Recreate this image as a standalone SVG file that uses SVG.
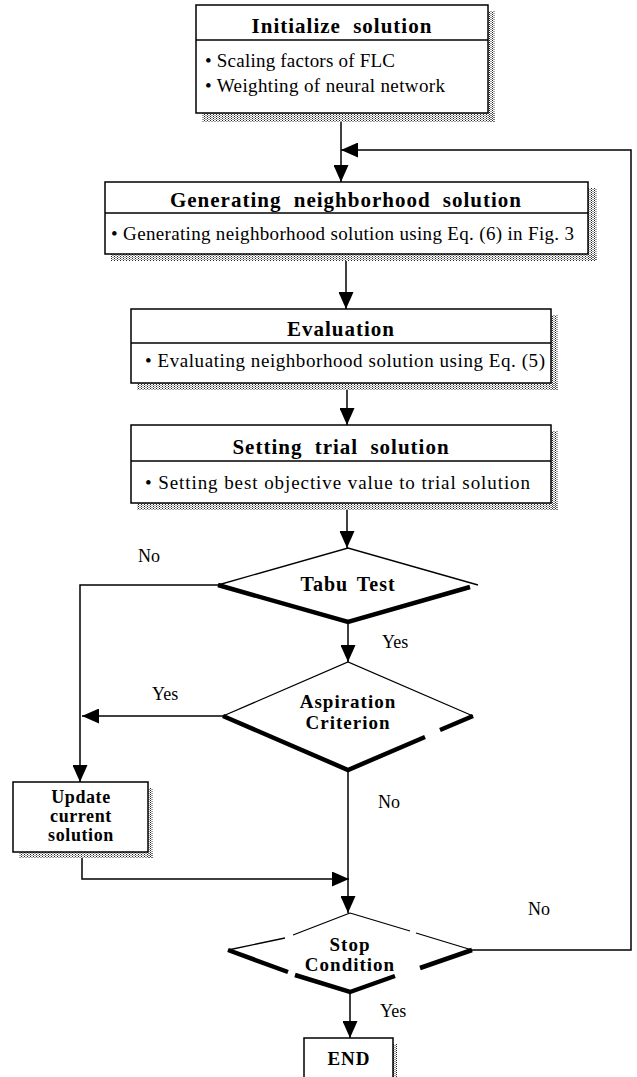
<svg xmlns="http://www.w3.org/2000/svg" width="637" height="1077" viewBox="0 0 637 1077">
<style>
.box{fill:#fff;stroke:#000;stroke-width:1.5}
.dv{stroke:#000;stroke-width:1.3}
.hdr{font-family:"Liberation Serif",serif;font-weight:bold;font-size:21px;letter-spacing:1px;word-spacing:6px;text-anchor:middle;fill:#000}
.bul{font-family:"Liberation Serif",serif;font-size:19px;fill:#000}
.dt{font-family:"Liberation Serif",serif;font-weight:bold;font-size:19px;letter-spacing:1px;word-spacing:3px;text-anchor:middle;fill:#000}
.ut{font-family:"Liberation Serif",serif;font-weight:bold;font-size:18px;letter-spacing:0.6px;text-anchor:middle;fill:#000}
.lbl{font-family:"Liberation Serif",serif;font-size:18px;fill:#000}
.ln{fill:none;stroke:#000;stroke-width:1.5}
.thin{fill:none;stroke:#000;stroke-width:1.3}
.thick{fill:none;stroke:#000;stroke-width:4.5}
.dfill{fill:#fff;stroke:none}
.sh{fill:url(#dots)}
</style>
<defs>
<pattern id="dots" patternUnits="userSpaceOnUse" width="3" height="2">
<rect x="0" y="0" width="1" height="1" fill="#222"/>
<rect x="1.5" y="1" width="1" height="1" fill="#444"/>
</pattern>
<marker id="ah" markerUnits="userSpaceOnUse" viewBox="0 0 17 15" refX="17" refY="7.5" markerWidth="17" markerHeight="15" orient="auto">
<path d="M0,0 L17,7.5 L0,15 Z" fill="#000"/>
</marker>
</defs>

<g id="connectors">
<path class="ln" d="M341,122 V182" marker-end="url(#ah)"/>
<path class="ln" d="M472,950 H631 V150 H341" marker-end="url(#ah)"/>
<path class="ln" d="M346,261 V309" marker-end="url(#ah)"/>
<path class="ln" d="M347,390 V425" marker-end="url(#ah)"/>
<path class="ln" d="M347,510 V548" marker-end="url(#ah)"/>
<path class="ln" d="M218,585 H80 V782" marker-end="url(#ah)"/>
<path class="ln" d="M348,622 V662" marker-end="url(#ah)"/>
<path class="ln" d="M223,716 H82" marker-end="url(#ah)"/>
<path class="ln" d="M348,770 V913" marker-end="url(#ah)"/>
<path class="ln" d="M82,858 V879 H349" marker-end="url(#ah)"/>
<path class="ln" d="M350,992 V1038" marker-end="url(#ah)"/>
<text class="lbl" x="138" y="562">No</text>
<text class="lbl" x="382" y="648">Yes</text>
<text class="lbl" x="152" y="700">Yes</text>
<text class="lbl" x="378" y="808">No</text>
<text class="lbl" x="528" y="915">No</text>
<text class="lbl" x="380" y="1017">Yes</text>
</g>

<g id="init">
<rect class="sh" x="488" y="11" width="7" height="111"/>
<rect class="sh" x="202" y="113" width="293" height="9"/>
<rect class="box" x="196" y="5" width="292" height="108"/>
<line class="dv" x1="196" y1="40" x2="488" y2="40"/>
<text class="hdr" x="342" y="33">Initialize solution</text>
<text class="bul" x="205" y="67" textLength="190" lengthAdjust="spacing">• Scaling factors of FLC</text>
<text class="bul" x="205" y="92" textLength="240" lengthAdjust="spacing">• Weighting of neural network</text>
</g>

<g id="generate">
<rect class="sh" x="588" y="188" width="9" height="73"/>
<rect class="sh" x="111" y="254" width="486" height="7"/>
<rect class="box" x="105" y="182" width="483" height="72"/>
<line class="dv" x1="105" y1="213" x2="588" y2="213"/>
<text class="hdr" x="346" y="207">Generating neighborhood solution</text>
<text class="bul" x="111" y="240" textLength="463" lengthAdjust="spacing">• Generating neighborhood solution using Eq. (6) in Fig. 3</text>
</g>

<g id="evaluation">
<rect class="sh" x="551" y="315" width="7" height="75"/>
<rect class="sh" x="137" y="383" width="421" height="7"/>
<rect class="box" x="131" y="309" width="420" height="74"/>
<line class="dv" x1="131" y1="343" x2="551" y2="343"/>
<text class="hdr" x="341" y="336">Evaluation</text>
<text class="bul" x="145" y="367" textLength="400" lengthAdjust="spacing">• Evaluating neighborhood solution using Eq. (5)</text>
</g>

<g id="trial">
<rect class="sh" x="551" y="431" width="7" height="79"/>
<rect class="sh" x="137" y="503" width="421" height="7"/>
<rect class="box" x="131" y="425" width="420" height="78"/>
<line class="dv" x1="131" y1="461" x2="551" y2="461"/>
<text class="hdr" x="341" y="454">Setting trial solution</text>
<text class="bul" x="145" y="489" textLength="385" lengthAdjust="spacing">• Setting best objective value to trial solution</text>
</g>

<g id="tabu">
<polygon class="dfill" points="348,548 478,585 348,622 218,585"/>
<path class="thin" d="M218,585 L348,548 L478,585"/>
<path class="thick" d="M218,585 L348,622 L470,587"/>
<text class="dt" x="348" y="591" style="font-size:20px">Tabu Test</text>
</g>

<g id="aspiration">
<polygon class="dfill" points="348,662 473,716 348,770 223,716"/>
<path class="thin" d="M223,716 L348,662 L473,716"/>
<path class="thick" d="M223,716 L348,770 L425,737 M440,730 L473,716"/>
<text class="dt" x="348" y="708">Aspiration</text>
<text class="dt" x="348" y="729">Criterion</text>
</g>

<g id="update">
<rect class="sh" x="148" y="788" width="5" height="70"/>
<rect class="sh" x="19" y="852" width="134" height="6"/>
<rect class="box" x="13" y="782" width="135" height="70"/>
<text class="ut" x="81" y="803">Update</text>
<text class="ut" x="81" y="822">current</text>
<text class="ut" x="81" y="841">solution</text>
</g>

<g id="stop">
<polygon class="dfill" points="350,913 472,950 350,992 228,950"/>
<path class="thin" d="M350,913 L293,935 M285,938 L228,950 M350,913 L410,931 M416,933 L472,950"/>
<path class="thick" d="M472,950 L420,968 M395,976 L350,992 L295,975 M288,972 L228,950"/>
<text class="dt" x="350" y="951">Stop</text>
<text class="dt" x="350" y="971">Condition</text>
</g>

<g id="end">
<rect class="sh" x="393" y="1044" width="4" height="33"/>
<rect class="box" x="304" y="1038" width="89" height="42"/>
<text class="dt" x="349" y="1065">END</text>
</g>
</svg>
